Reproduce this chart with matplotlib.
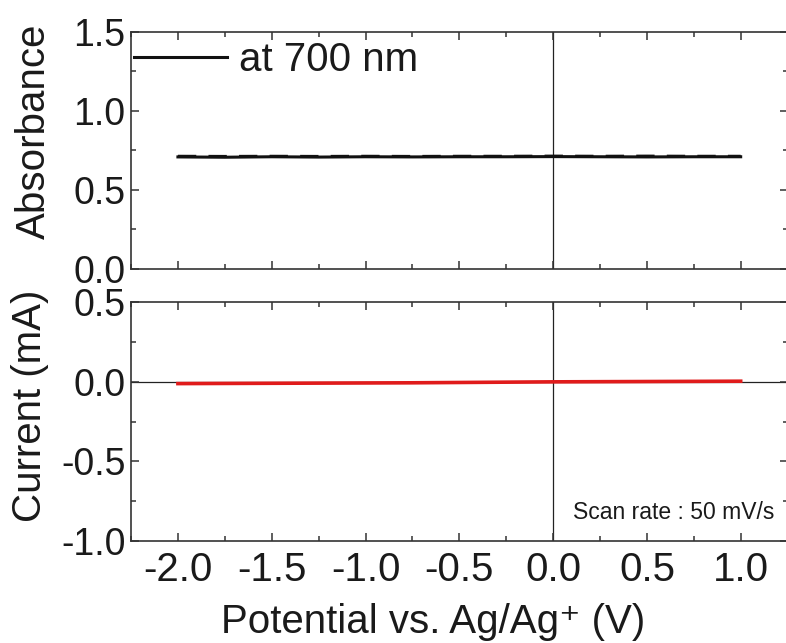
import matplotlib
matplotlib.use('Agg')
import matplotlib.pyplot as plt
from matplotlib.ticker import MultipleLocator, FormatStrFormatter

plt.rcParams['font.family'] = ['Liberation Sans', 'DejaVu Sans']
plt.rcParams['axes.unicode_minus'] = False

# potential sweep (V vs Ag/Ag+)
potential = [-2.0, -1.75, -1.5, -1.25, -1.0, -0.75, -0.5, -0.25, 0.0, 0.25, 0.5, 0.75, 1.0]
# absorbance at 700 nm, forward and reverse scans
absorb_fwd = [0.712, 0.711, 0.712, 0.711, 0.712, 0.711, 0.712, 0.712, 0.713, 0.712, 0.713, 0.712, 0.712]
absorb_rev = [0.708, 0.706, 0.709, 0.707, 0.709, 0.708, 0.709, 0.709, 0.710, 0.709, 0.708, 0.709, 0.709]
# current (mA)
current = [-0.012, -0.011, -0.010, -0.009, -0.008, -0.007, -0.005, -0.003, -0.001, 0.000, 0.001, 0.002, 0.003]

legend_label = 'at 700 nm'
note = 'Scan rate : 50 mV/s'

fig = plt.figure(figsize=(7.86, 6.43), dpi=100)
ax1 = fig.add_axes([0.1667, 0.5816, 0.8353, 0.3694])
ax2 = fig.add_axes([0.1667, 0.1586, 0.8353, 0.3717])

fs = 29
for ax in (ax1, ax2):
    ax.set_xlim(-2.25, 1.25)
    ax.xaxis.set_major_locator(MultipleLocator(0.5))
    ax.xaxis.set_minor_locator(MultipleLocator(0.25))
    ax.yaxis.set_major_locator(MultipleLocator(0.5))
    ax.yaxis.set_minor_locator(MultipleLocator(0.25))
    ax.xaxis.set_major_formatter(FormatStrFormatter('%.1f'))
    ax.yaxis.set_major_formatter(FormatStrFormatter('%.1f'))
    ax.tick_params(which='both', direction='in', top=True, right=True,
                   width=1.1, color='#333333', labelcolor='#1a1a1a')
    ax.tick_params(which='major', length=5.5)
    ax.tick_params(which='minor', length=3.5)
    ax.tick_params(axis='y', pad=4, labelsize=27)
    ax.tick_params(axis='x', pad=7, labelsize=fs)
    for sp in ax.spines.values():
        sp.set_linewidth(1.2)
        sp.set_color('#333333')
    # right frame edge sits just past the canvas
    ax.spines['right'].set_visible(False)
    ax.axvline(0, color='#222222', lw=0.9, zorder=1)

ax1.set_ylim(0.0, 1.5)
ax1.tick_params(axis='x', labelbottom=False)
ax1.plot(potential, absorb_rev, color='#111111', lw=2.2, label=legend_label)
ax1.plot(potential, absorb_fwd, color='#111111', lw=2.2, dashes=(6, 4))
leg = ax1.legend(loc='center left', bbox_to_anchor=(0.005, 0.88), frameon=False,
                 fontsize=fs, handlelength=2.3, handletextpad=0.3,
                 borderpad=0, borderaxespad=0)
for t in leg.get_texts():
    t.set_color('#1a1a1a')
ax1.set_ylabel('Absorbance', fontsize=fs, color='#1a1a1a')
ax1.yaxis.set_label_coords(-0.131, 0.58)
ax1.yaxis.label.set_verticalalignment('baseline')

ax2.set_ylim(-1.0, 0.5)
ax2.axhline(0, color='#222222', lw=0.9, zorder=1)
ax2.plot(potential, current, color='#e01b1b', lw=2.6, zorder=3)
ax2.set_ylabel('Current (mA)', fontsize=fs, color='#1a1a1a')
ax2.yaxis.set_label_coords(-0.137, 0.565)
ax2.yaxis.label.set_verticalalignment('baseline')
ax2.set_xlabel('Potential vs. Ag/Ag\u207a (V)', fontsize=fs, color='#1a1a1a')
ax2.xaxis.set_label_coords(0.46, -0.385)
ax2.xaxis.label.set_verticalalignment('baseline')
ax2.text(0.98, 0.092, note, transform=ax2.transAxes, fontsize=16.5,
         ha='right', va='baseline', color='#1a1a1a')

fig.savefig('out.png', dpi=100)
